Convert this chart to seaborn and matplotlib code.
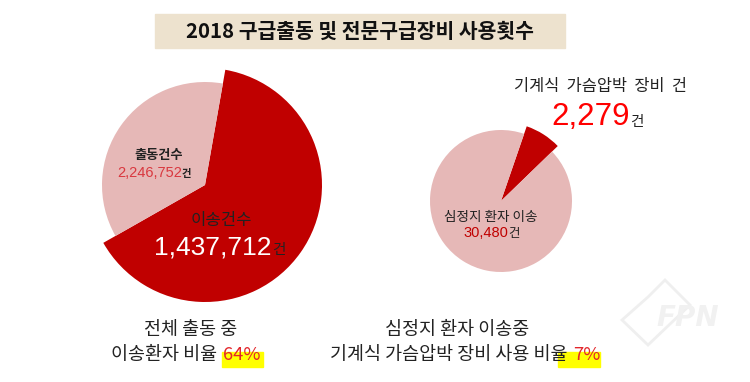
import matplotlib
matplotlib.use("Agg")
import matplotlib.pyplot as plt
import matplotlib.patches as mpatches
import seaborn as sns

sns.set_theme(style="white")
plt.rcParams['font.family'] = ['Noto Sans CJK KR', 'DejaVu Sans']

# ---- data ----
title = "2018 구급출동 및 전문구급장비 사용횟수"
left_labels = ["이송건수", "출동건수"]
left_total = 2246752
left_transport = 1437712
right_labels = ["기계식 가슴압박 장비 건", "심정지 환자 이송"]
right_total = 30480
right_device = 2279
left_pct = "64%"
right_pct = "7%"

palette = sns.color_palette(["#C00000", "#E6B8B7"])
DARK, LIGHT = palette[0], palette[1]

W, H = 750, 382
fig = plt.figure(figsize=(7.5, 3.82), dpi=100)
ax = fig.add_axes([0, 0, 1, 1])
ax.set_axis_off()

def Y(y):
    return H - y

# left pie
lw, _ = ax.pie([left_transport, left_total - left_transport], colors=[DARK, LIGHT],
               startangle=80, counterclock=False, center=(205, Y(185)), radius=103,
               wedgeprops=dict(linewidth=0))
lw[0].set_radius(117)

# right pie
rw, _ = ax.pie([right_device, right_total - right_device], colors=[DARK, LIGHT],
               startangle=71, counterclock=False, center=(501, Y(201)), radius=71,
               wedgeprops=dict(linewidth=0))
rw[0].set_radius(79)

ax.set_xlim(0, W)
ax.set_ylim(0, H)
ax.set_aspect('auto')

# title box
ax.add_patch(mpatches.Rectangle((155, Y(48)), 410, 34, color="#EDE2CE", zorder=1))
ax.text(360, Y(31), title, ha='center', va='center', fontsize=14.7, fontweight='bold',
        color='#111111', zorder=2)

NUM = ['Liberation Sans', 'DejaVu Sans']
TXT = '#222222'

# left pie labels
ax.text(159, Y(155), left_labels[1], ha='center', va='center', fontsize=9.5,
        fontweight='bold', color=TXT)
ax.text(182, Y(173), f"{left_total:,}", ha='right', va='center', fontsize=10.5,
        color='#D9383F', family=NUM)
ax.text(182, Y(174), "건", ha='left', va='center', fontsize=7.5, color=TXT, fontweight='bold')

ax.text(221, Y(220), left_labels[0], ha='center', va='center', fontsize=12, color=TXT)
ax.text(272, Y(247), f"{left_transport:,}", ha='right', va='center', fontsize=19,
        color='white', family=NUM)
ax.text(272, Y(250), "건", ha='left', va='center', fontsize=10.5, color=TXT)

# right pie labels
ax.text(600, Y(87), right_labels[0].replace(" ", "  "), ha='center', va='center',
        fontsize=11.8, color=TXT)
ax.text(630, Y(117), f"{right_device:,}", ha='right', va='center', fontsize=22.5,
        color='#FF0000', family=NUM)
ax.text(630, Y(122), "건", ha='left', va='center', fontsize=10.5, color=TXT)

ax.text(491, Y(217), right_labels[1], ha='center', va='center', fontsize=9.8, color=TXT)
ax.text(508, Y(233), f"{right_total:,}", ha='right', va='center', fontsize=10.5,
        color='#C00000', family=NUM)
ax.text(508, Y(234), "건", ha='left', va='center', fontsize=9, color=TXT)

# bottom captions with highlights
ax.add_patch(mpatches.Rectangle((222, Y(367)), 41, 15, color="#FFFF00", zorder=1))
ax.add_patch(mpatches.Rectangle((558, Y(367)), 42, 15, color="#FFFF00", zorder=1))

ax.text(191, Y(330), "전체 출동 중", ha='center', va='center', fontsize=13.3, color=TXT, zorder=3)
ax.text(221, Y(355), "이송환자 비율 ", ha='right', va='center', fontsize=13.3, color=TXT, zorder=3)
ax.text(223, Y(355), left_pct, ha='left', va='center', fontsize=13.3, color='#E3262B', zorder=3)

ax.text(457, Y(330), "심정지 환자 이송중", ha='center', va='center', fontsize=13.3, color=TXT, zorder=3)
ax.text(572, Y(355), "기계식 가슴압박 장비 사용 비율 ", ha='right', va='center', fontsize=13.3,
        color=TXT, zorder=3)
ax.text(573, Y(355), right_pct, ha='left', va='center', fontsize=13.3, color='#E3262B', zorder=3)

# faint watermark
ax.add_patch(mpatches.Polygon([(648, Y(297)), (665, Y(280)), (690, Y(305)), (648, Y(345)), (622, Y(320))],
                              closed=True, fill=False, edgecolor='#EFEFEF', linewidth=2, zorder=0))
ax.text(688, Y(318), "FPN", ha='center', va='center', fontsize=20, fontweight='bold',
        fontstyle='italic', color='#F1F1F1', family=['DejaVu Sans'], zorder=0)

fig.savefig("out.png", dpi=100, facecolor='white')
